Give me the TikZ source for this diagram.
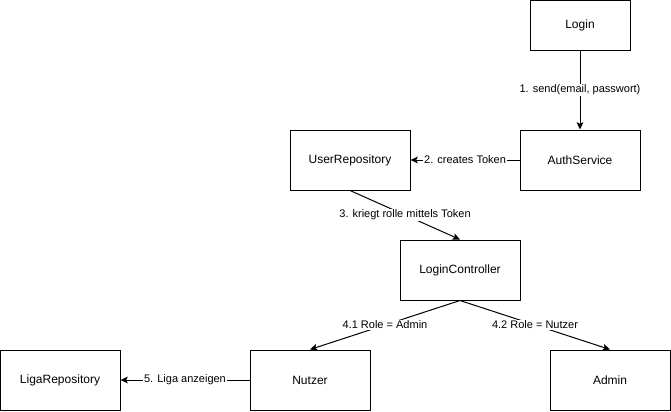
\documentclass[tikz,border=0pt]{standalone}
\usepackage{fontspec}
\setmainfont{Liberation Sans}
\usetikzlibrary{arrows.meta}
\begin{document}
\begin{tikzpicture}[x=0.75pt,y=-0.75pt,
  box/.style={draw,line width=0.75pt,rectangle,inner sep=0pt,minimum width=90pt,minimum height=45pt,font=\fontsize{9pt}{11pt}\selectfont},
  conn/.style={line width=0.75pt,-{Stealth[length=5.5pt,width=5pt,inset=1.2pt]}},
  lbl/.style={fill=white,inner sep=0.8pt,font=\fontsize{8.25pt}{10pt}\selectfont,midway}]
\useasboundingbox (0,0) rectangle (671,411);
\node[box,minimum width=75pt,minimum height=37.5pt] (login) at (580,25) {Login};
\node[box] (auth) at (580,160) {AuthService};
\node[box] (user) at (350,160) {UserRepository};
\node[box] (lc) at (460,270) {LoginController};
\node[box] (nutzer) at (310,380) {Nutzer};
\node[box] (admin) at (610,380) {Admin};
\node[box] (liga) at (60,380) {LigaRepository};
\draw[conn] (login.south) -- node[lbl] {1. send(email, passwort)} (auth.north);
\draw[conn] (auth.west) -- node[lbl] {2. creates Token} (user.east);
\draw[conn] (user.south) -- node[lbl] {3. kriegt rolle mittels Token} (lc.north);
\draw[conn] (lc.south) -- node[lbl] {4.1 Role = Admin} (nutzer.north);
\draw[conn] (lc.south) -- node[lbl] {4.2 Role = Nutzer} (admin.north);
\draw[conn] (nutzer.west) -- node[lbl] {5. Liga anzeigen} (liga.east);
\end{tikzpicture}
\end{document}
